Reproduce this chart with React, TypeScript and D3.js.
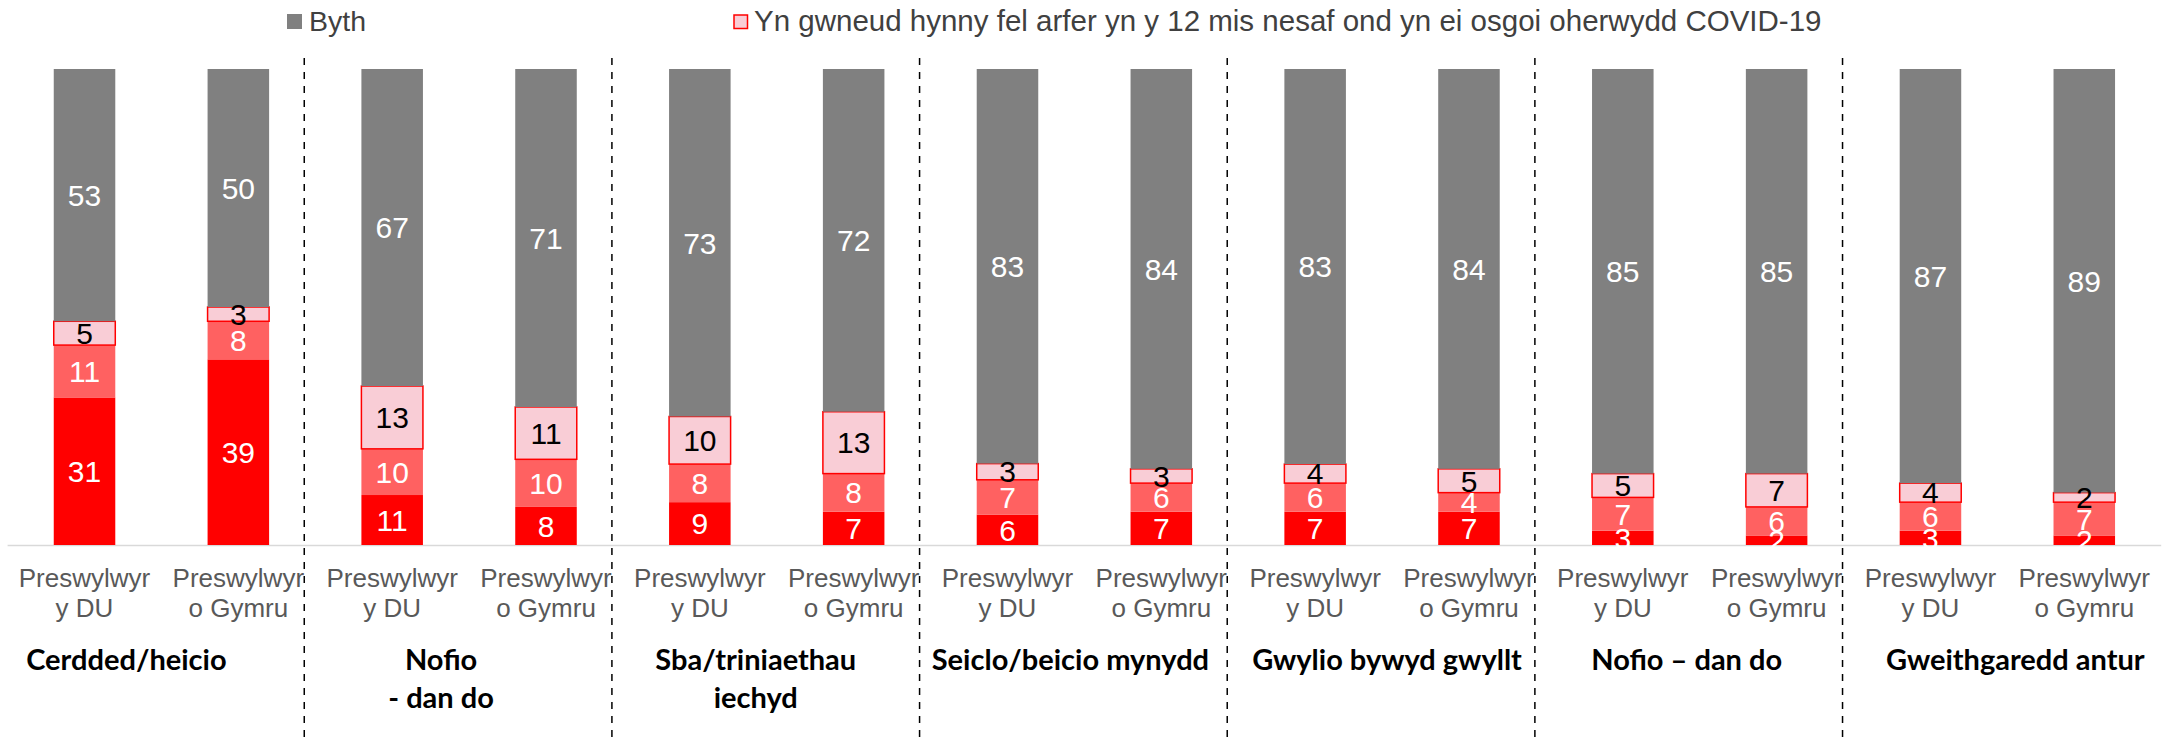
import React from "react";
import * as d3 from "d3";

// ---------- data ----------
const groupLabels: string[][] = [
  ["Cerdded/heicio"],
  ["Nofio", "- dan do"],
  ["Sba/triniaethau", "iechyd"],
  ["Seiclo/beicio mynydd"],
  ["Gwylio bywyd gwyllt"],
  ["Nofio – dan do"],
  ["Gweithgaredd antur"],
];
const subLabels: string[][] = [
  ["Preswylwyr", "y DU"],
  ["Preswylwyr", "o Gymru"],
];
// one value per bar (7 groups x 2 bars), bottom to top (labels show rounded values)
const seriesRegular = [31, 39, 10.5, 8, 9, 7, 6.4, 7, 7, 7, 3, 2, 3, 2];
const seriesSometimes = [11, 8, 9.7, 10, 8, 8, 7.3, 6, 6, 4, 7, 6, 6, 7];
const seriesCovid = [5, 3, 13.2, 11, 10, 13, 3.4, 3, 4, 5, 5, 7, 4, 2];
const seriesNever = [53, 50, 66.6, 71, 73, 72, 82.9, 84, 83, 84, 85, 85, 87, 89];
const legendLabels = [
  "Byth",
  "Yn gwneud hynny fel arfer yn y 12 mis nesaf ond yn ei osgoi oherwydd COVID-19",
];

// ---------- layout ----------
const W = 2171;
const H = 743;
const plotLeft = 7.6;
const plotRight = 2161.2;
const baseY = 545;
const topY = 69;
const groupLabelShift = [-35, -28, -21, -14, -5, -13, 8];
const FONT = "'Liberation Sans', Arial, Helvetica, sans-serif";
const BOLD_FONT = "Lato, 'Liberation Sans', sans-serif";

const colors = {
  regular: "#FF0000",
  sometimes: "#FF6161",
  covid: "#F9CDD6",
  never: "#808080",
};

export default function App() {
  const nBars = seriesNever.length;
  const barIdx = d3.range(nBars);
  const x = d3
    .scaleBand<number>()
    .domain(barIdx)
    .range([plotLeft, plotRight])
    .paddingInner(0.6)
    .paddingOuter(0.3);
  const gx = d3
    .scaleBand<number>()
    .domain(d3.range(groupLabels.length))
    .range([plotLeft, plotRight])
    .padding(0);
  const y = d3.scaleLinear().domain([0, 100]).range([baseY, topY]);

  const keys = ["regular", "sometimes", "covid", "never"] as const;
  const table = barIdx.map((i) => ({
    regular: seriesRegular[i],
    sometimes: seriesSometimes[i],
    covid: seriesCovid[i],
    never: seriesNever[i],
  }));
  const stacked = d3.stack<any>().keys(keys as any)(table);

  const labelColor: Record<string, string> = {
    regular: "#FFFFFF",
    sometimes: "#FFFFFF",
    covid: "#000000",
    never: "#FFFFFF",
  };

  return (
    <svg
      width={W}
      height={H}
      style={{ position: "absolute", left: 0, top: 0, background: "#fff" }}
      fontFamily={FONT}
    >
      {/* legend */}
      <rect x={287} y={14} width={15} height={15} fill={colors.never} />
      <text x={309} y={31} fontSize={28.5} fill="#404040">
        {legendLabels[0]}
      </text>
      <rect
        x={734}
        y={15}
        width={13.5}
        height={13.5}
        fill={colors.covid}
        stroke="#FF0000"
        strokeWidth={1.5}
      />
      <text x={754} y={31} fontSize={29.5} fill="#404040">
        {legendLabels[1]}
      </text>

      {/* axis line */}
      <line
        x1={plotLeft}
        x2={plotRight}
        y1={baseY + 0.5}
        y2={baseY + 0.5}
        stroke="#D9D9D9"
        strokeWidth={1.5}
      />

      {/* bars */}
      {stacked.map((layer) => {
        const key = layer.key as string;
        return (
          <g key={key}>
            {layer.map((d, i) => {
              const y0 = y(d[0]);
              const y1 = y(d[1]);
              const bx = x(i)!;
              const bw = x.bandwidth();
              return (
                <rect
                  key={i}
                  x={bx}
                  y={y1}
                  width={bw}
                  height={Math.max(0, y0 - y1)}
                  fill={(colors as any)[key]}
                  stroke={key === "covid" ? "#FF0000" : "none"}
                  strokeWidth={key === "covid" ? 1.5 : 0}
                />
              );
            })}
          </g>
        );
      })}

      {/* value labels */}
      {stacked.map((layer) => {
        const key = layer.key as string;
        return (
          <g key={"l" + key}>
            {layer.map((d, i) => {
              const v = d[1] - d[0];
              const cy = (y(d[0]) + y(d[1])) / 2;
              return (
                <text
                  key={i}
                  x={x(i)! + x.bandwidth() / 2}
                  y={cy}
                  dy="0.36em"
                  textAnchor="middle"
                  fontSize={30}
                  fill={labelColor[key]}
                >
                  {Math.round(v)}
                </text>
              );
            })}
          </g>
        );
      })}

      {/* bar category labels */}
      {barIdx.map((i) => {
        const lines = subLabels[i % 2];
        const cx = x(i)! + x.bandwidth() / 2;
        return (
          <text
            key={"s" + i}
            x={cx}
            y={587}
            textAnchor="middle"
            fontSize={26}
            fill="#595959"
          >
            {lines.map((ln, k) => (
              <tspan key={k} x={cx} dy={k === 0 ? 0 : 30}>
                {ln}
              </tspan>
            ))}
          </text>
        );
      })}

      {/* group labels */}
      {groupLabels.map((lines, g) => {
        const cx = gx(g)! + gx.bandwidth() / 2 + groupLabelShift[g];
        return (
          <text
            key={"g" + g}
            x={cx}
            y={670}
            textAnchor="middle"
            fontSize={29}
            fontWeight={700}
            fontFamily={BOLD_FONT}
            fill="#000000"
          >
            {lines.map((ln, k) => (
              <tspan key={k} x={cx} dy={k === 0 ? 0 : 38}>
                {ln}
              </tspan>
            ))}
          </text>
        );
      })}

      {/* dashed group dividers */}
      {d3.range(1, groupLabels.length).map((g) => {
        const dx = gx(g)! - 11;
        return (
          <line
            key={"d" + g}
            x1={dx}
            x2={dx}
            y1={58}
            y2={H}
            stroke="#000000"
            strokeWidth={1.5}
            strokeDasharray="7,7"
          />
        );
      })}
    </svg>
  );
}
